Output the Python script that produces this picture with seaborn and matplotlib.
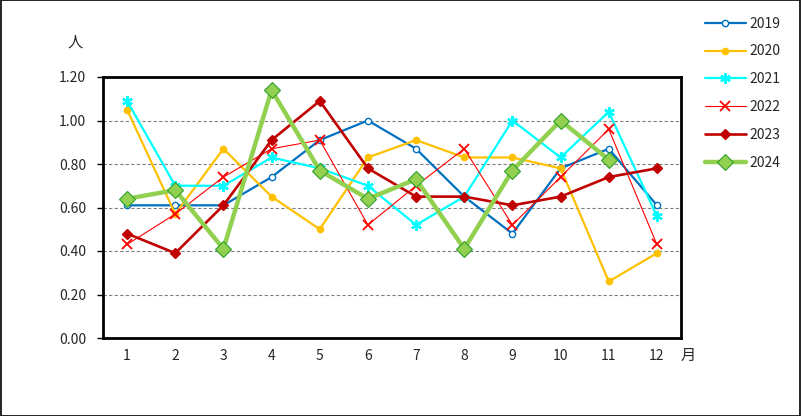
import numpy as np
import pandas as pd
import matplotlib
matplotlib.use("Agg")
import matplotlib.pyplot as plt
import seaborn as sns
from matplotlib.patches import Rectangle

months = list(range(1, 13))
month_labels = [str(m) for m in months]
years = ["2019", "2020", "2021", "2022", "2023", "2024"]

v2019 = [0.61, 0.61, 0.61, 0.74, 0.91, 1.00, 0.87, 0.65, 0.48, 0.78, 0.87, 0.61]
v2020 = [1.05, 0.57, 0.87, 0.65, 0.50, 0.83, 0.91, 0.83, 0.83, 0.78, 0.26, 0.39]
v2021 = [1.09, 0.70, 0.70, 0.83, 0.78, 0.70, 0.52, 0.65, 1.00, 0.83, 1.04, 0.56]
v2022 = [0.43, 0.57, 0.74, 0.87, 0.91, 0.52, 0.70, 0.87, 0.52, 0.74, 0.96, 0.43]
v2023 = [0.48, 0.39, 0.61, 0.91, 1.09, 0.78, 0.65, 0.65, 0.61, 0.65, 0.74, 0.78]
v2024 = [0.64, 0.68, 0.41, 1.14, 0.77, 0.64, 0.73, 0.41, 0.77, 1.00, 0.82, np.nan]

series = {"2019": v2019, "2020": v2020, "2021": v2021,
          "2022": v2022, "2023": v2023, "2024": v2024}

styles = {
    "2019": dict(color="#0070C0", lw=1.6, marker="o", ms=4.5, mfc="white", mec="#0070C0", mew=1.0),
    "2020": dict(color="#FFC000", lw=1.6, marker="o", ms=4.5, mfc="#FFC000", mec="#FFC000", mew=1),
    "2021": dict(color="#00FFFF", lw=1.6, marker=(6, 2, 0), ms=7.5, mfc="#00FFFF", mec="#00FFFF", mew=1.6),
    "2022": dict(color="#FF0000", lw=0.8, marker="x", ms=7, mfc="#FF0000", mec="#FF0000", mew=1.3),
    "2023": dict(color="#C00000", lw=1.9, marker="D", ms=5.5, mfc="#C00000", mec="#C00000", mew=1),
    "2024": dict(color="#92D050", lw=3.2, marker="D", ms=8, mfc="#92D050", mec="#2E9E2E", mew=0.8),
}

sns.set_theme(style="white")
plt.rcParams["font.family"] = ["Noto Sans CJK JP", "DejaVu Sans"]

fig = plt.figure(figsize=(8.01, 4.16), dpi=100)
ax = fig.add_axes([103/801, 1-338/416, (681-103)/801, (338-77)/416])

for y in years:
    df = pd.DataFrame({"month": months, "value": series[y]})
    st = styles[y]
    sns.lineplot(data=df, x="month", y="value", ax=ax, label=y,
                 color=st["color"], linewidth=st["lw"], marker=st["marker"],
                 markersize=st["ms"], markerfacecolor=st["mfc"],
                 markeredgecolor=st["mec"], markeredgewidth=st["mew"])

ax.set_xlim(0.5, 12.5)
ax.set_ylim(0, 1.2)
ax.set_yticks(np.arange(0, 1.21, 0.2))
ax.set_yticklabels([f"{t:.2f}" for t in np.arange(0, 1.21, 0.2)], fontsize=10)
ax.set_xticks(months)
ax.set_xticklabels(month_labels, fontsize=10)
ax.set_xticks(np.arange(0.5, 12.6, 1), minor=True)
ax.tick_params(axis="x", which="major", length=0, pad=8)
ax.tick_params(axis="x", which="minor", direction="in", length=4, width=1, color="black")
ax.tick_params(axis="y", which="major", direction="out", length=4, width=1, color="black", left=True, pad=8)
ax.set_xlabel("")
ax.set_ylabel("")
for y in np.arange(0.2, 1.21, 0.2):
    ax.axhline(y, color="#808080", lw=0.8, ls=(0, (3, 2)), zorder=0)
for s in ax.spines.values():
    s.set_visible(True)
    s.set_color("black")
    s.set_linewidth(2)

fig.text(75/801, 1-42/416, "人", fontsize=11, ha="center", va="center")
fig.text(688/801, 1-355/416, "月", fontsize=11, ha="center", va="center")

leg = ax.legend(loc="upper left", bbox_to_anchor=(692/801, 1-4/416),
                bbox_transform=fig.transFigure, frameon=False, fontsize=10,
                handlelength=3.0, labelspacing=1.0, handletextpad=0.2)

fig.patches.append(Rectangle((0.001, 0.001), 0.998, 0.998, transform=fig.transFigure,
                             fill=False, edgecolor="black", lw=1.2))

fig.savefig("out.png", dpi=100)
